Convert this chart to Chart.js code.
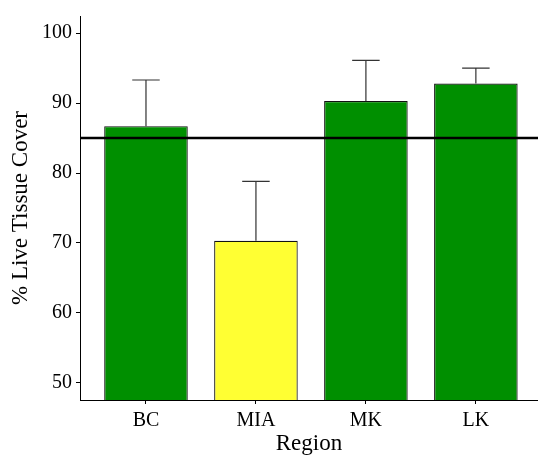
<!DOCTYPE html>
<html>
<head>
<meta charset="utf-8">
<script src="https://cdn.jsdelivr.net/npm/chart.js@4/dist/chart.umd.min.js"></script>
<style>
  html, body { margin: 0; padding: 0; background: #ffffff; }
  #wrap { width: 538px; height: 458px; position: relative; }
</style>
</head>
<body>
<div id="wrap"><canvas id="chart"></canvas></div>
<script>
// Regions surveyed and mean live tissue cover (%) with upper error limits
const categories = ['BC', 'MIA', 'MK', 'LK'];
const meanCover = [86.7, 70.3, 90.3, 92.8];
const upperError = [93.3, 78.8, 96.1, 95.0];
const barColors = ['#008f00', '#ffff33', '#008f00', '#008f00'];
const referenceLevel = 85;
const yTicks = [50, 60, 70, 80, 90, 100];

const serif = '"Liberation Serif", "Times New Roman", serif';

// Upper error whiskers and the horizontal reference level
const overlayPlugin = {
  id: 'overlay',
  afterDatasetsDraw(chart) {
    const { ctx, chartArea, scales: { x, y } } = chart;
    ctx.save();
    ctx.strokeStyle = '#333333';
    ctx.lineWidth = 1.2;
    categories.forEach((c, i) => {
      const cx = x.getPixelForValue(i + 1);
      const yTop = y.getPixelForValue(upperError[i]);
      const yBar = y.getPixelForValue(meanCover[i]);
      const half = Math.abs(x.getPixelForValue(i + 1.125) - cx);
      ctx.beginPath();
      ctx.moveTo(cx, yBar);
      ctx.lineTo(cx, yTop);
      ctx.moveTo(cx - half, yTop);
      ctx.lineTo(cx + half, yTop);
      ctx.stroke();
    });
    const yr = y.getPixelForValue(referenceLevel);
    ctx.strokeStyle = '#000000';
    ctx.lineWidth = 2.5;
    ctx.beginPath();
    ctx.moveTo(chartArea.left, yr);
    ctx.lineTo(chartArea.right, yr);
    ctx.stroke();
    ctx.restore();
  }
};

new Chart(document.getElementById('chart'), {
  type: 'bar',
  data: {
    datasets: [{
      data: categories.map((c, i) => ({ x: i + 1, y: meanCover[i] })),
      backgroundColor: barColors,
      borderColor: '#111111',
      borderWidth: 1.2,
      borderSkipped: false,
      barPercentage: 0.76,
      categoryPercentage: 1
    }]
  },
  options: {
    responsive: true,
    maintainAspectRatio: false,
    animation: false,
    layout: { padding: { top: 12, left: 0, right: 0, bottom: 0 } },
    plugins: { legend: { display: false }, tooltip: { enabled: false } },
    scales: {
      x: {
        type: 'linear',
        offset: false,
        min: 0.4,
        max: 4.565,
        afterBuildTicks(scale) { scale.ticks = categories.map((c, i) => ({ value: i + 1 })); },
        afterFit(scale) { scale.height = 58; },
        ticks: {
          autoSkip: false,
          maxRotation: 0,
          padding: 5,
          color: '#000000',
          font: { family: serif, size: 20 },
          callback: (v) => categories[v - 1]
        },
        grid: { offset: false, drawOnChartArea: false, drawTicks: true, tickLength: 4, tickColor: '#000000', lineWidth: 1 },
        border: { display: true, color: '#000000', width: 1 },
        title: {
          display: true,
          text: 'Region',
          color: '#000000',
          font: { family: serif, size: 23 },
          padding: { top: 0, bottom: 0 }
        }
      },
      y: {
        min: 47.55,
        max: 102.45,
        afterBuildTicks(scale) { scale.ticks = yTicks.map(v => ({ value: v })); },
        afterFit(scale) { scale.width = 80; },
        ticks: {
          padding: 4,
          color: '#000000',
          font: { family: serif, size: 20 }
        },
        grid: { drawOnChartArea: false, drawTicks: true, tickLength: 4, tickColor: '#000000', lineWidth: 1 },
        border: { display: true, color: '#000000', width: 1 },
        title: {
          display: true,
          text: '% Live Tissue Cover',
          color: '#000000',
          font: { family: serif, size: 23 },
          padding: { top: 7, bottom: 0 }
        }
      }
    }
  },
  plugins: [overlayPlugin]
});
</script>
</body>
</html>
